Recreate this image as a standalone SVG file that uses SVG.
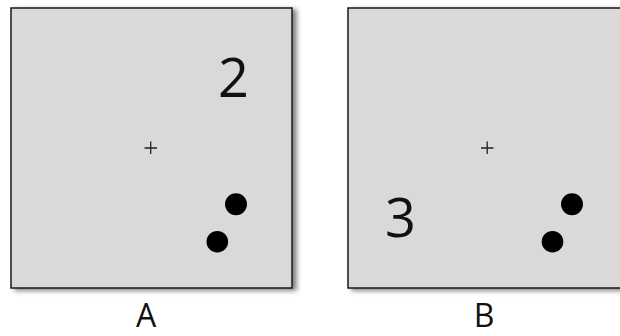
<svg xmlns="http://www.w3.org/2000/svg" width="620" height="336" viewBox="0 0 620 336">
<defs>
<filter id="sh" x="-10%" y="-10%" width="130%" height="130%">
<feGaussianBlur in="SourceAlpha" stdDeviation="2.5"/>
<feOffset dx="4" dy="2" result="b"/>
<feComponentTransfer><feFuncA type="linear" slope="0.5"/></feComponentTransfer>
<feMerge><feMergeNode/><feMergeNode in="SourceGraphic"/></feMerge>
</filter>
</defs>
<style>
.panel{fill:#d9d9d9;stroke:#1a1a1a;stroke-width:1.5}
.num{font-family:"Open Sans","Liberation Sans",sans-serif;font-size:54px;fill:#111;text-anchor:middle}
.lab{font-family:"Open Sans","Liberation Sans",sans-serif;font-size:32px;fill:#111;text-anchor:middle}
.fix{stroke:#222;stroke-width:1.3}
.dot{fill:#000}
</style>
<rect width="620" height="336" fill="#fff"/>
<g id="panelA">
<rect class="panel" x="11" y="8" width="281" height="280" filter="url(#sh)"/>
<path class="fix" d="M144.5 148H157M150.7 141.5V154"/>
<text class="num" x="233.5" y="97">2</text>
<circle class="dot" cx="236" cy="204.3" r="11"/>
<circle class="dot" cx="217.3" cy="241.7" r="10.8"/>
<text class="lab" x="146" y="326.5">A</text>
</g>
<g id="panelB">
<rect class="panel" x="348" y="8" width="281" height="280" filter="url(#sh)"/>
<path class="fix" d="M481 148H493.5M487.2 141.5V154"/>
<text class="num" x="400.5" y="237">3</text>
<circle class="dot" cx="572" cy="204.3" r="11"/>
<circle class="dot" cx="552.5" cy="241.7" r="10.8"/>
<text class="lab" x="484" y="326.5">B</text>
</g>
</svg>
